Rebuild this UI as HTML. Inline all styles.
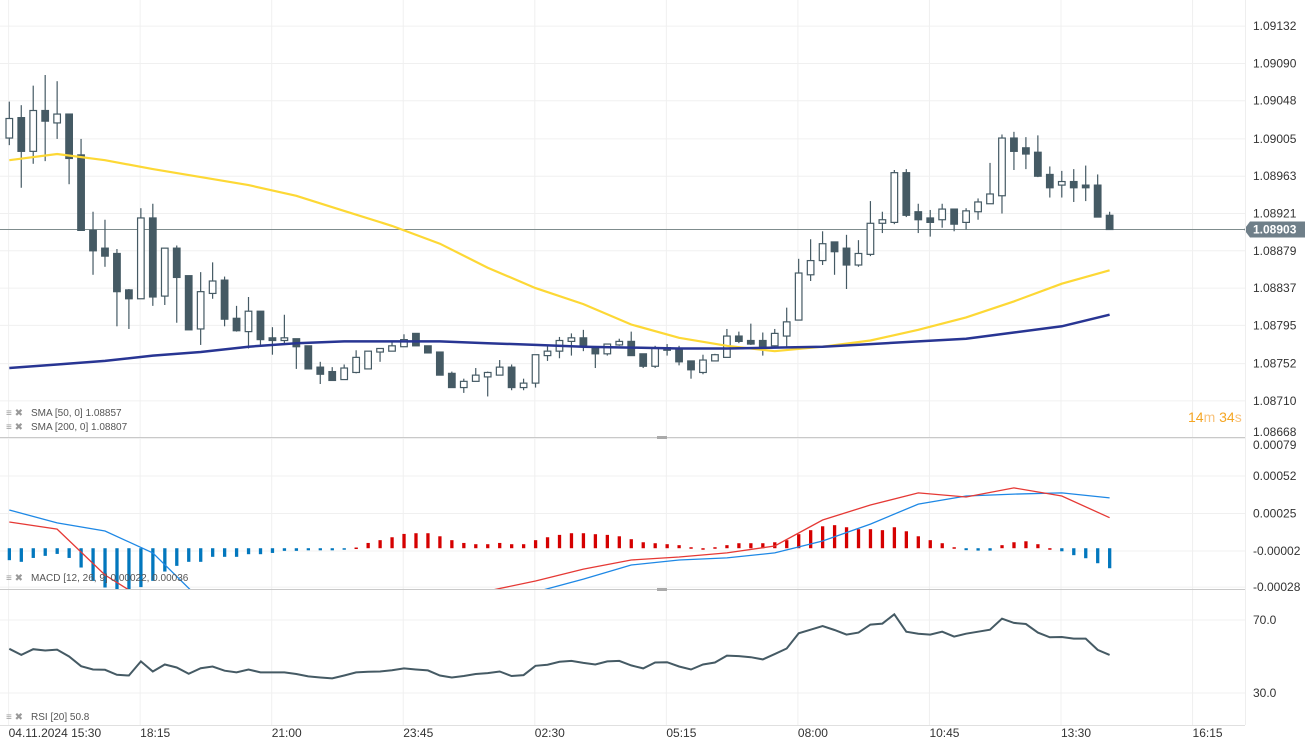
<!DOCTYPE html>
<html><head><meta charset="utf-8">
<style>
html,body{margin:0;padding:0;background:#fff;}
body{width:1314px;height:750px;overflow:hidden;font-family:"Liberation Sans",sans-serif;}
svg text{font-family:"Liberation Sans",sans-serif;}
</style></head>
<body>
<svg id="chart" width="1314" height="750" viewBox="0 0 1314 750" xmlns="http://www.w3.org/2000/svg">
<defs>
<clipPath id="macdClip"><rect x="0" y="439" width="1245" height="150"/></clipPath>
<clipPath id="priceClip"><rect x="0" y="0" width="1245" height="437"/></clipPath>
</defs>
<g id="grid"></g>
<g id="price" clip-path="url(#priceClip)"></g>
<g id="macd" clip-path="url(#macdClip)"></g>
<g id="rsi"></g>
<g id="axes"></g>
<line x1="0" y1="437.5" x2="1245" y2="437.5" stroke="#c9c9c9"/>
<line x1="0" y1="589.5" x2="1245" y2="589.5" stroke="#c9c9c9"/>
<rect x="657" y="436" width="10" height="3" fill="#aaa"/>
<rect x="657" y="588" width="10" height="3" fill="#aaa"/>
<line x1="0" y1="725.5" x2="1245" y2="725.5" stroke="#e0e0e0"/>
<line x1="1245.5" y1="0" x2="1245.5" y2="725" stroke="#eeeeee"/>
<g font-size="10" fill="#555">
<g><text x="6" y="416" fill="#999" font-size="10">≡ ✖</text><text x="31" y="416">SMA [50, 0] 1.08857</text></g>
<g><text x="6" y="430" fill="#999" font-size="10">≡ ✖</text><text x="31" y="430">SMA [200, 0] 1.08807</text></g>
</g>
<text x="1188" y="422" font-size="14" fill="#f5a623">14<tspan fill="#f8c27a">m</tspan> 34<tspan fill="#f8c27a">s</tspan></text>
<g font-size="10" fill="#555"><text x="6" y="581" fill="#999">≡ ✖</text><text x="31" y="581">MACD [12, 26, 9] 0.00022, 0.00036</text></g>
<g font-size="10" fill="#555"><text x="6" y="720" fill="#999">≡ ✖</text><text x="31" y="720">RSI [20] 50.8</text></g>
</svg>
<script>
const NS="http://www.w3.org/2000/svg";
// ---- data ----
const opens=[1.09006,1.09029,1.08991,1.09037,1.09023,1.09033,1.08987,1.08902,1.08882,1.08876,1.08835,1.08825,1.08916,1.08828,1.08882,1.08851,1.08791,1.08831,1.08846,1.08803,1.08788,1.08811,1.08781,1.08778,1.08780,1.08772,1.08748,1.08743,1.08734,1.08742,1.08746,1.08765,1.08766,1.08771,1.08786,1.08772,1.08765,1.08741,1.08725,1.08732,1.08737,1.08739,1.08748,1.08725,1.08730,1.08761,1.08766,1.08777,1.08781,1.08771,1.08763,1.08773,1.08777,1.08763,1.08749,1.08770,1.08769,1.08755,1.08742,1.08755,1.08759,1.08783,1.08778,1.08778,1.08772,1.08783,1.08801,1.08852,1.08868,1.08889,1.08882,1.08863,1.08875,1.08910,1.08911,1.08967,1.08923,1.08916,1.08914,1.08926,1.08911,1.08923,1.08932,1.08941,1.09006,1.08995,1.08990,1.08965,1.08953,1.08957,1.08953,1.08953,1.08919];
const highs=[1.09047,1.09043,1.09065,1.09077,1.09070,1.09033,1.09005,1.08923,1.08914,1.08881,1.08836,1.08927,1.08932,1.08882,1.08885,1.08851,1.08855,1.08866,1.08850,1.08817,1.08827,1.08811,1.08793,1.08807,1.08780,1.08772,1.08754,1.08748,1.08751,1.08767,1.08766,1.08769,1.08778,1.08785,1.08786,1.08772,1.08765,1.08743,1.08735,1.08747,1.08743,1.08756,1.08751,1.08735,1.08762,1.08773,1.08782,1.08786,1.08790,1.08771,1.08774,1.08780,1.08788,1.08763,1.08772,1.08774,1.08772,1.08755,1.08762,1.08763,1.08791,1.08788,1.08797,1.08787,1.08791,1.08815,1.08870,1.08892,1.08901,1.08889,1.08897,1.08891,1.08935,1.08923,1.08970,1.08971,1.08932,1.08925,1.08932,1.08926,1.08927,1.08938,1.08978,1.09010,1.09013,1.09007,1.09009,1.08974,1.08969,1.08971,1.08975,1.08965,1.08923];
const lows=[1.08998,1.08950,1.08977,1.08980,1.09005,1.08954,1.08902,1.08852,1.08861,1.08794,1.08791,1.08825,1.08817,1.08818,1.08798,1.08790,1.08773,1.08825,1.08794,1.08788,1.08769,1.08771,1.08762,1.08774,1.08746,1.08746,1.08729,1.08733,1.08734,1.08741,1.08746,1.08754,1.08766,1.08771,1.08772,1.08764,1.08739,1.08725,1.08719,1.08732,1.08715,1.08739,1.08722,1.08722,1.08725,1.08755,1.08758,1.08761,1.08766,1.08747,1.08761,1.08772,1.08761,1.08747,1.08747,1.08761,1.08750,1.08735,1.08740,1.08755,1.08759,1.08775,1.08773,1.08761,1.08770,1.08770,1.08801,1.08845,1.08863,1.08852,1.08836,1.08861,1.08873,1.08899,1.08909,1.08917,1.08899,1.08895,1.08905,1.08901,1.08903,1.08914,1.08932,1.08921,1.08970,1.08971,1.08962,1.08939,1.08939,1.08934,1.08935,1.08917,1.08903];
const closes=[1.09028,1.08991,1.09037,1.09025,1.09033,1.08983,1.08902,1.08879,1.08873,1.08833,1.08825,1.08916,1.08827,1.08882,1.08849,1.08790,1.08833,1.08845,1.08802,1.08789,1.08811,1.08779,1.08778,1.08781,1.08771,1.08746,1.08740,1.08733,1.08747,1.08759,1.08766,1.08769,1.08772,1.08779,1.08772,1.08764,1.08739,1.08725,1.08732,1.08739,1.08742,1.08748,1.08725,1.08730,1.08762,1.08766,1.08778,1.08781,1.08772,1.08763,1.08774,1.08777,1.08761,1.08749,1.08770,1.08767,1.08754,1.08745,1.08756,1.08762,1.08783,1.08777,1.08774,1.08770,1.08786,1.08799,1.08854,1.08868,1.08887,1.08878,1.08863,1.08876,1.08910,1.08914,1.08967,1.08919,1.08914,1.08911,1.08926,1.08909,1.08924,1.08934,1.08943,1.09006,1.08991,1.08988,1.08963,1.08950,1.08957,1.08950,1.08950,1.08917,1.08903];
const maIndex=[0,4,8,12,16,20,24,28,32,36,40,44,48,52,56,60,64,68,72,76,80,84,88,92];
const sma50=[1.08981,1.08988,1.08981,1.08971,1.08962,1.08953,1.08941,1.08924,1.08907,1.08887,1.08860,1.08837,1.08819,1.08796,1.08781,1.08772,1.08766,1.08771,1.08778,1.08790,1.08804,1.08822,1.08842,1.08857];
const sma200=[1.08747,1.08751,1.08755,1.08761,1.08765,1.08771,1.08775,1.08777,1.08777,1.08777,1.08775,1.08773,1.08771,1.08770,1.08769,1.08769,1.08770,1.08771,1.08774,1.08777,1.08780,1.08787,1.08794,1.08807];
const macdLine=[0.000189,0.000138,-0.000193,-0.000409,-0.000517,-0.000553,-0.000553,-0.000517,-0.000445,-0.000373,-0.000308,-0.000236,-0.000150,-0.000085,-0.000063,-0.000034,0.000016,0.000203,0.000311,0.000398,0.000369,0.000434,0.000376,0.000220];
const signalLine=[0.000275,0.000182,0.000124,-0.000034,-0.000373,-0.000481,-0.000553,-0.000589,-0.000589,-0.000517,-0.000409,-0.000315,-0.000222,-0.000121,-0.000085,-0.000070,-0.000034,0.000052,0.000174,0.000318,0.000376,0.000390,0.000398,0.000362];
const histogram=[-8.6,-9.8,-7.0,-5.5,-4.1,-7.0,-13.9,-23.5,-28.3,-32,-32,-28,-23.5,-16.8,-12.7,-9.8,-9.8,-6.2,-6.2,-6.2,-4.3,-4.3,-3.4,-1.9,-1.9,-1.5,-1.5,-1.5,-1.0,0.5,3.8,5.8,7.9,10.3,10.8,10.8,8.6,5.8,3.8,2.9,2.9,3.8,2.9,2.9,5.8,7.9,9.6,10.8,10.8,10.1,9.6,8.6,6.5,4.3,3.6,2.9,2.2,0.7,0,0.7,2.2,3.6,3.6,3.6,4.3,5.8,10.1,13.0,15.8,16.6,15.1,13.7,13.7,13.0,15.1,12.2,8.6,5.8,3.6,0.7,-1.4,-1.7,-1.7,2.2,4.3,5.0,2.9,0,-2.2,-5.0,-7.2,-10.8,-14.4];
const rsi=[54.2,50.9,54.0,53.3,53.8,50.0,44.7,42.9,42.7,40.0,39.6,47.3,41.8,45.6,44.0,40.5,43.6,44.5,42.2,41.3,42.9,41.3,41.3,41.3,40.4,39.1,38.5,38.0,39.6,41.3,41.6,41.8,42.5,43.5,42.9,42.4,39.6,38.5,39.3,40.4,40.9,41.8,39.3,39.8,44.9,45.5,47.1,47.6,46.5,45.6,47.3,47.6,45.1,43.5,46.7,46.9,44.5,42.9,45.6,46.7,50.5,50.2,49.6,48.4,51.3,54.4,62.7,64.7,66.7,64.5,62.0,63.1,67.5,68.0,73.1,63.6,62.5,62.0,63.6,60.9,62.5,63.6,64.7,70.7,68.4,67.8,63.1,60.5,60.7,59.8,59.8,53.6,50.9];
const priceTicks=["1.09132","1.09090","1.09048","1.09005","1.08963","1.08921","1.08879","1.08837","1.08795","1.08752","1.08710","1.08668"];
const macdTicks=["0.00079","0.00052","0.00025","-0.00002","-0.00028"];
const rsiTicks=["70.0","30.0"];
const timeLabels=["04.11.2024 15:30","18:15","21:00","23:45","02:30","05:15","08:00","10:45","13:30","16:15"];
const lastPrice="1.08903";
// ---- scales ----
const X=i=>9.3+i*11.96;
const Yp=p=>229.5-(p-1.08903)*88800;
const Ym=v=>551-(v+0.00002)/0.0000072;
const Yr=r=>620+(70-r)*1.825;
function el(tag,attrs,parent){const e=document.createElementNS(NS,tag);for(const k in attrs)e.setAttribute(k,attrs[k]);parent.appendChild(e);return e;}
const grid=document.getElementById('grid'),price=document.getElementById('price'),macd=document.getElementById('macd'),rsiG=document.getElementById('rsi'),axes=document.getElementById('axes');
timeLabels.forEach((t,k)=>{const x=8.6+k*131.55;
 const l=el('line',{x1:x,y1:0,x2:x,y2:725,stroke:'#f0f0f0'},grid);
 
 
 const tx=el('text',{x:x,y:737,'font-size':12,fill:'#333'},axes);tx.textContent=t;
 
 
});
priceTicks.forEach(t=>{const y=Yp(parseFloat(t));
 const l=el('line',{x1:0,y1:y,x2:1245,y2:y,stroke:'#f0f0f0'},grid);
 
 
 const tx=el('text',{x:1253,y:Math.min(y,432)+4,'font-size':12,fill:'#333'},axes);tx.textContent=t;
 
 
});
macdTicks.forEach(t=>{const y=Ym(parseFloat(t));
 const l=el('line',{x1:0,y1:y,x2:1245,y2:y,stroke:'#f0f0f0'},grid);
 
 
 const tx=el('text',{x:1253,y:Math.max(y,445)+4,'font-size':12,fill:'#333'},axes);tx.textContent=t;
 
 
});
rsiTicks.forEach(t=>{const y=Yr(parseFloat(t));
 const l=el('line',{x1:0,y1:y,x2:1245,y2:y,stroke:'#f0f0f0'},grid);
 
 
 const tx=el('text',{x:1253,y:y+4,'font-size':12,fill:'#333'},axes);tx.textContent=t;
 
 
});
const ly=Yp(parseFloat(lastPrice));
const pl=el('line',{x1:0,y1:ly,x2:1245,y2:ly,stroke:'#7f8c8d','stroke-width':1},price);


opens.forEach((o,i)=>{const c=closes[i],x=X(i),up=c>=o;
 const g=el('g',{},price);
 
 
 el('line',{x1:x,y1:Yp(highs[i]),x2:x,y2:Yp(lows[i]),stroke:'#455a64','stroke-width':1.2},g);
 const top=Yp(Math.max(o,c)),h=Math.max(1.5,Math.abs(Yp(o)-Yp(c)));
 el('rect',{x:x-3.3,y:top,width:6.6,height:h,fill:up?'#fff':'#455a64',stroke:'#455a64','stroke-width':1.2},g);
});
function poly(vals,xs,yf,attrs,parent,name){const pts=vals.map((v,k)=>X(xs?xs[k]:k).toFixed(1)+','+yf(v).toFixed(1)).join(' ');
 const p=el('polyline',Object.assign({points:pts,fill:'none'},attrs),parent);
 
 
 return p;}
poly(sma50,maIndex,Yp,{stroke:'#fdd835','stroke-width':2.2},price,'sma50-line');
poly(sma200,maIndex,Yp,{stroke:'#283593','stroke-width':2.5},price,'sma200-line');
histogram.forEach((h,i)=>{const v=h*1e-5,y0=Ym(0),y1=Ym(v);
 const r=el('rect',{x:X(i)-1.6,y:Math.min(y0,y1),width:3.3,height:Math.max(1.5,Math.abs(y1-y0)),fill:h>=0?'#d50000':'#0277bd'},macd);
 
 
});
poly(signalLine,maIndex,Ym,{stroke:'#1e88e5','stroke-width':1.3},macd,'macd-signal-line');
poly(macdLine,maIndex,Ym,{stroke:'#e53935','stroke-width':1.3},macd,'macd-line');
poly(rsi,null,Yr,{stroke:'#455a64','stroke-width':2},rsiG,'rsi-line');
const tag=el('g',{},axes);


el('path',{d:`M1244 ${ly} L1250 ${ly-8} L1305 ${ly-8} L1305 ${ly+8} L1250 ${ly+8} Z`,fill:'#6f7f89'},tag);
const tt=el('text',{x:1253,y:ly+4,'font-size':12,fill:'#fff','font-weight':'bold'},tag);tt.textContent=lastPrice;
</script>
</body></html>
